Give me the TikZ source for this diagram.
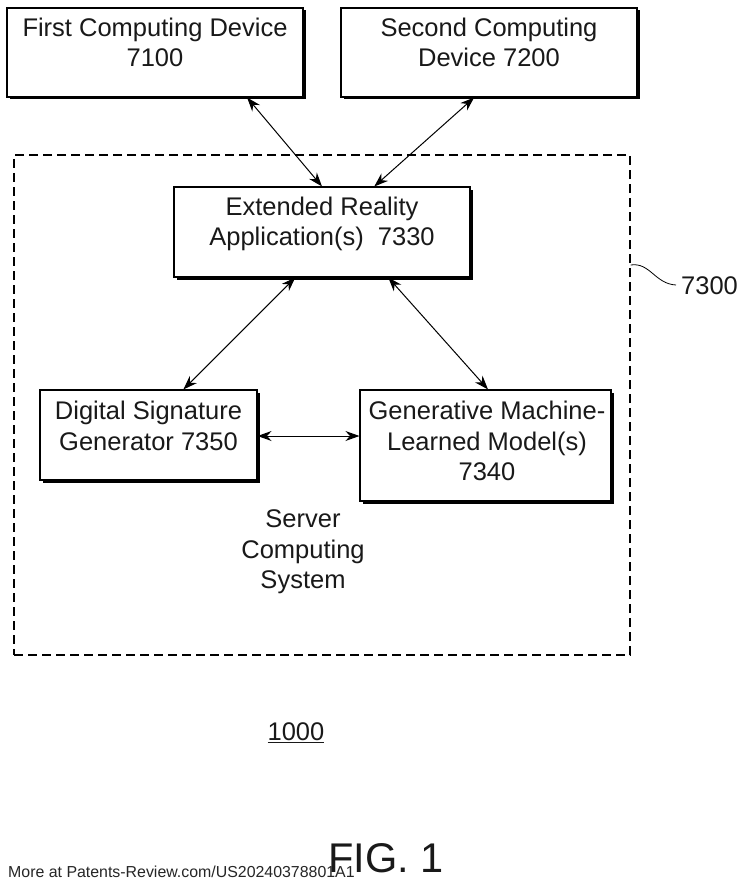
\documentclass[tikz,border=0pt]{standalone}
\usepackage{fontspec}
\setmainfont{Liberation Sans}
\usetikzlibrary{calc,shadows,arrows.meta}
\tikzset{
  boxnode/.style={draw=black,fill=white,line width=1.1pt,minimum width=#1,inner sep=0pt,
    drop shadow={shadow xshift=2.5pt,shadow yshift=-2.5pt,fill=black,opacity=1}},
  txt/.style={font=\fontsize{25.5}{30.7}\selectfont,align=center,inner sep=0pt,text=black!90},
  link/.style={line width=1pt,{Stealth[length=14pt,width=10pt]}-{Stealth[length=14pt,width=10pt]}}
}
\begin{document}
\begin{tikzpicture}[x=1pt,y=-1pt]
\useasboundingbox[fill=white] (0,0) rectangle (743,888);
\node[draw=black,line width=1.2pt,dash pattern=on 9pt off 5pt,minimum width=616pt,minimum height=500pt,inner sep=0pt] (sys) at (322,405) {};
\node[boxnode=296pt,minimum height=89pt] (d1) at (155,52.5) {};
\node[boxnode=296pt,minimum height=89pt] (d2) at (489,52.5) {};
\node[boxnode=296pt,minimum height=90pt] (xr) at (322,232) {};
\node[boxnode=217pt,minimum height=90pt] (ds) at (148.5,435) {};
\node[boxnode=251pt,minimum height=111pt] (gm) at (485.5,445.5) {};
\node[txt] (t1) at (155,42.5) {First Computing Device\\7100};
\node[txt] (t2) at (489,42.5) {Second Computing\\Device 7200};
\node[txt] (t3) at (322,224) {Extended Reality\\Application(s)\ \ 7330};
\node[txt] (t4) at (148.5,426) {Digital Signature\\Generator 7350};
\node[txt] (t5) at (487,441) {Generative Machine-\\Learned Model(s)\\7340};
\node[txt] (t6) at (303,552) {Server\\Computing\\System};
\node[txt,anchor=west] (t7) at (681,286) {7300};
\node[txt] (t8) at (296,733) {\underline{1000}};
\node[font=\fontsize{41.5}{43}\selectfont,inner sep=0pt,anchor=base west,text=black!90] (fig) at (328,872) {FIG.\ 1};
\node[font=\fontsize{15.9}{18}\selectfont,inner sep=0pt,anchor=base west,text=black!85] (more) at (8,877) {More at Patents-Review.com/US20240378801A1};
\coordinate (lead) at (676,285);
\draw[line width=0.8pt] (sys.east |- 0,265) .. controls (650,262) and (655,284) .. (lead);
\draw[link] ($(d1.south west)!0.81!(d1.south east)$) -- (xr.north);
\draw[link] ($(d2.south west)!0.45!(d2.south east)$) -- ($(xr.north west)!0.676!(xr.north east)$);
\draw[link] ($(xr.south west)!0.41!(xr.south east)$) -- ($(ds.north west)!0.66!(ds.north east)$);
\draw[link] ($(xr.south west)!0.723!(xr.south east)$) -- ($(gm.north west)!0.51!(gm.north east)$);
\draw[link] ($(ds.east)+(0,1)$) -- ($(gm.west |- ds.east)+(0,1)$);
\end{tikzpicture}
\end{document}
